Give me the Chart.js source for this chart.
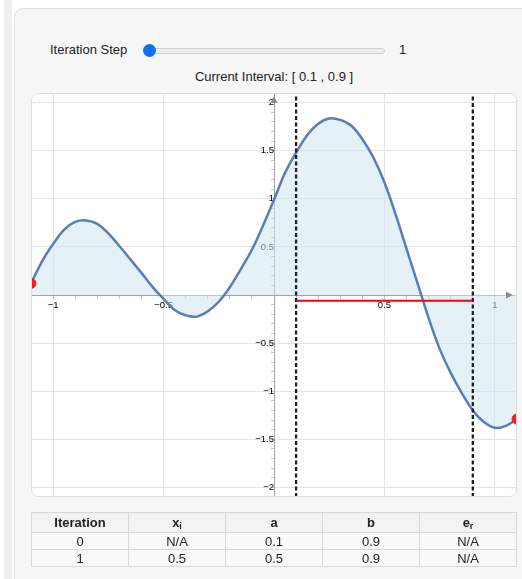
<!DOCTYPE html>
<html>
<head>
<meta charset="utf-8">
<script src="https://cdn.jsdelivr.net/npm/chart.js@4/dist/chart.umd.min.js"></script>
<style>
  html, body { margin: 0; padding: 0; background: #ffffff; width: 522px; height: 579px; overflow: hidden; font-family: "Liberation Sans", Arial, sans-serif; }
  #strip { position: absolute; left: 4px; top: 0; width: 8px; height: 579px; background: #efefef; }
  #panel { position: absolute; left: 14px; top: 8px; width: 530px; height: 590px; background: #f6f6f6; border: 1px solid #dcdcdc; border-radius: 9px; box-sizing: border-box; }
  #sliderLabel { position: absolute; left: 50px; top: 42px; font-size: 13px; color: #222; }
  #track { position: absolute; left: 148px; top: 48px; width: 237px; height: 6px; background: #ececec; border: 1px solid #cfcfcf; border-radius: 4px; box-sizing: border-box; }
  #knob { position: absolute; left: 143px; top: 44px; width: 13px; height: 13px; border-radius: 50%; background: #1170f0; }
  #sliderVal { position: absolute; left: 399px; top: 42px; font-size: 13px; color: #222; }
  #title { position: absolute; left: 0; width: 548px; top: 69px; text-align: center; font-size: 13px; color: #222; }
  #plotWrap { position: absolute; left: 31px; top: 93px; width: 486px; height: 404px; border-radius: 7px; overflow: hidden; background: #fff; }
  #plotBorder { position: absolute; left: 31px; top: 93px; width: 486px; height: 404px; border-radius: 7px; border: 1px solid #dedede; box-sizing: border-box; pointer-events: none; }
  table { position: absolute; left: 31px; top: 512px; width: 486px; border-collapse: collapse; font-size: 13px; color: #222; table-layout: fixed; }
  th, td { border: 1px solid #d8d8d8; text-align: center; padding: 0; }
  th { height: 19px; background: #f3f3f3; font-weight: bold; line-height: 17px; }
  td { height: 16px; background: #f9f9f9; line-height: 15px; }
  sub { font-size: 9px; vertical-align: -2px; line-height: 0; }
</style>
</head>
<body>
<div id="strip"></div>
<div id="panel"></div>
<div id="sliderLabel">Iteration Step</div>
<div id="track"></div>
<div id="knob"></div>
<div id="sliderVal"></div>
<div id="title"></div>
<div id="plotWrap"><canvas id="c" width="486" height="404"></canvas></div>
<div id="plotBorder"></div>
<table id="tbl"></table>
<script>
// ---- data ----
const xValues = [-1.10,-1.05,-1.00,-0.95,-0.90,-0.85,-0.80,-0.75,-0.70,-0.65,-0.60,-0.55,-0.50,-0.45,-0.40,-0.35,-0.30,-0.25,-0.20,-0.15,-0.10,-0.05,0.00,0.05,0.10,0.15,0.20,0.25,0.30,0.35,0.40,0.45,0.50,0.55,0.60,0.65,0.70,0.75,0.80,0.85,0.90,0.95,1.00,1.05,1.10];
const fValues = [0.12,0.35,0.53,0.68,0.76,0.775,0.74,0.64,0.51,0.37,0.23,0.085,-0.04,-0.155,-0.21,-0.225,-0.17,-0.07,0.08,0.27,0.47,0.72,0.99,1.27,1.48,1.66,1.78,1.835,1.82,1.76,1.62,1.43,1.17,0.84,0.48,0.12,-0.24,-0.56,-0.81,-1.02,-1.20,-1.32,-1.38,-1.36,-1.29];
const intervalA = 0.1;
const intervalB = 0.9;
const redLineY = -0.06;
const endPointX = [-1.1, 1.1];
const endPointY = [0.12, -1.29];
const xRange = [-1.1, 1.1];
const yRange = [-2.1, 2.1];
const iterationStep = 1;
const tableHeaders = ['Iteration', 'x<sub>i</sub>', 'a', 'b', 'e<sub>r</sub>'];
const iterations = ['0', '1'];
const xiValues = ['N/A', '0.5'];
const aValues = ['0.1', '0.5'];
const bValues = ['0.9', '0.9'];
const erValues = ['N/A', 'N/A'];

// ---- text ----
document.getElementById('sliderVal').textContent = String(iterationStep);
document.getElementById('title').textContent = 'Current Interval: [ ' + intervalA + ' , ' + intervalB + ' ]';
let html = '<tr>' + tableHeaders.map(h => '<th>' + h + '</th>').join('') + '</tr>';
for (let i = 0; i < iterations.length; i++) {
  html += '<tr><td>' + iterations[i] + '</td><td>' + xiValues[i] + '</td><td>' + aValues[i] + '</td><td>' + bValues[i] + '</td><td>' + erValues[i] + '</td></tr>';
}
document.getElementById('tbl').innerHTML = html;

// ---- chart ----
const FONT = '"Liberation Sans", Arial, sans-serif';
const tenths = v => Math.round(v * 10);
const isMajor = v => tenths(v) % 5 === 0 && tenths(v) !== 0;
const fmt = v => {
  const r = tenths(v) / 10;
  if (!isMajor(v)) return '';
  const s = Math.abs(r).toString();
  return r < 0 ? '\u2212' + s : s;
};
const noPad = scale => { scale.paddingLeft = 0; scale.paddingRight = 0; scale.paddingTop = 0; scale.paddingBottom = 0; };

const arrows = {
  id: 'arrows',
  afterDraw(chart) {
    const { ctx, chartArea, scales } = chart;
    const x0 = scales.x.getPixelForValue(0);
    const y0 = scales.y.getPixelForValue(0);
    ctx.save();
    ctx.fillStyle = '#8a8a8a';
    ctx.beginPath();
    ctx.moveTo(x0, chartArea.top + 3);
    ctx.lineTo(x0 - 3.5, chartArea.top + 10);
    ctx.lineTo(x0 + 3.5, chartArea.top + 10);
    ctx.closePath();
    ctx.fill();
    ctx.beginPath();
    ctx.moveTo(chartArea.right - 4, y0);
    ctx.lineTo(chartArea.right - 11, y0 - 3.5);
    ctx.lineTo(chartArea.right - 11, y0 + 3.5);
    ctx.closePath();
    ctx.fill();
    ctx.restore();
  }
};

new Chart(document.getElementById('c'), {
  type: 'scatter',
  data: {
    datasets: [
      {
        data: endPointX.map((x, i) => ({ x, y: endPointY[i] })),
        backgroundColor: '#ff1a1a', borderColor: '#ff1a1a',
        pointRadius: 5, showLine: false, order: 0
      },
      {
        data: [{ x: intervalA, y: redLineY }, { x: intervalB, y: redLineY }],
        borderColor: '#ff0000', borderWidth: 2, pointRadius: 0, showLine: true, order: 1
      },
      {
        data: [{ x: intervalA, y: yRange[0] }, { x: intervalA, y: yRange[1] }],
        borderColor: '#1e1e1e', borderWidth: 2.3, borderDash: [4, 2.5], pointRadius: 0, showLine: true, order: 2
      },
      {
        data: [{ x: intervalB, y: yRange[0] }, { x: intervalB, y: yRange[1] }],
        borderColor: '#1e1e1e', borderWidth: 2.3, borderDash: [4, 2.5], pointRadius: 0, showLine: true, order: 2
      },
      {
        data: xValues.map((x, i) => ({ x, y: fValues[i] })),
        borderColor: '#5b7db6', borderWidth: 2.5, pointRadius: 0, showLine: true,
        tension: 0.4,
        fill: 'origin', backgroundColor: 'rgba(205,232,243,0.55)', order: 3
      }
    ]
  },
  options: {
    responsive: false,
    animation: false,
    devicePixelRatio: 1,
    layout: { padding: 0, autoPadding: false },
    plugins: { legend: { display: false }, tooltip: { enabled: false } },
    scales: {
      x: {
        type: 'linear', min: xRange[0], max: xRange[1], position: { y: 0 },
        afterFit: noPad,
        ticks: { stepSize: 0.1, autoSkip: false, maxTicksLimit: 200, maxRotation: 0, padding: 2,
                 font: { size: 9.5, family: FONT }, color: '#000', callback: v => fmt(v) },
        grid: { color: c => (c.tick && isMajor(c.tick.value)) ? '#e4e4e4' : 'rgba(0,0,0,0)',
                tickColor: c => (c.tick && tenths(c.tick.value) !== 0) ? '#c4c4c4' : 'rgba(0,0,0,0)',
                tickLength: 3, lineWidth: 1 },
        border: { color: '#a3a3a3', width: 1 }
      },
      y: {
        type: 'linear', min: yRange[0], max: yRange[1], position: { x: 0 },
        afterFit: noPad,
        ticks: { stepSize: 0.1, autoSkip: false, maxTicksLimit: 200, padding: 2,
                 font: { size: 9.5, family: FONT }, color: '#000', callback: v => fmt(v) },
        grid: { color: c => (c.tick && isMajor(c.tick.value)) ? '#e4e4e4' : 'rgba(0,0,0,0)',
                tickColor: c => (c.tick && tenths(c.tick.value) !== 0) ? '#c4c4c4' : 'rgba(0,0,0,0)',
                tickLength: 3, lineWidth: 1 },
        border: { color: '#a3a3a3', width: 1 }
      }
    }
  },
  plugins: [arrows]
});
</script>
</body>
</html>
